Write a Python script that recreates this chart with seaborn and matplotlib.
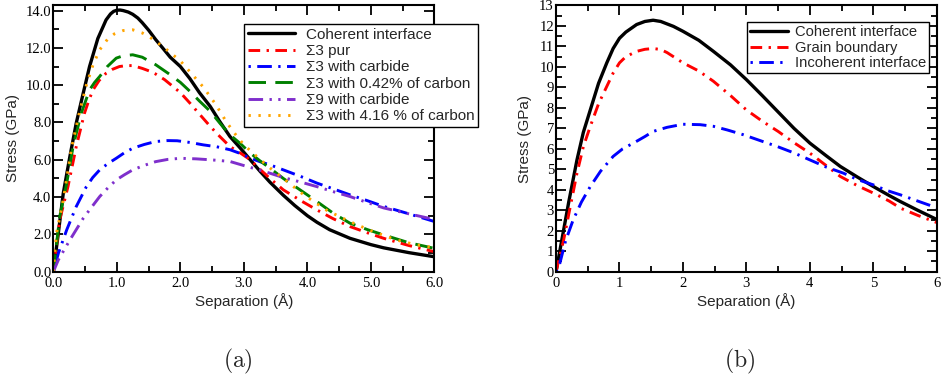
import matplotlib
matplotlib.use("Agg")
import matplotlib.pyplot as plt
from matplotlib.ticker import MultipleLocator, FormatStrFormatter
import seaborn as sns

# (a) curves
coh_a_x = [0, 0.078, 0.156, 0.26, 0.36, 0.47, 0.57, 0.70, 0.83, 0.9, 0.95, 1.0, 1.05, 1.1, 1.18,
           1.25, 1.33, 1.4, 1.5, 1.61, 1.72, 1.84, 2.0, 2.15, 2.3, 2.47, 2.62, 2.78, 2.95, 3.1,
           3.25, 3.41, 3.62, 3.8, 4.0, 4.15, 4.35, 4.67, 5.0, 5.2, 5.6, 6.0]
coh_a_y = [0, 2.06, 4.2, 6.17, 7.96, 9.57, 11.0, 12.5, 13.5, 13.82, 13.96, 14.02, 14.03, 14.0, 13.92,
           13.8, 13.6, 13.35, 12.95, 12.45, 12.0, 11.5, 11.0, 10.35, 9.6, 8.86, 8.05, 7.25, 6.6, 6.0,
           5.4, 4.8, 4.1, 3.55, 3.0, 2.65, 2.25, 1.79, 1.45, 1.28, 1.02, 0.8]

pur_x = [0, 0.05, 0.10, 0.23, 0.36, 0.49, 0.56, 0.625, 0.72, 0.83, 0.93, 1.04, 1.15, 1.25, 1.4,
         1.52, 1.61, 1.75, 1.84, 2.0, 2.15, 2.3, 2.47, 2.62, 2.78, 2.95, 3.1, 3.25, 3.41, 3.62,
         3.9, 4.15, 4.4, 4.67, 4.95, 5.2, 5.6, 6.0]
pur_y = [0, 1.4, 2.77, 4.56, 6.7, 8.5, 9.2, 9.75, 10.25, 10.64, 10.85, 11.0, 11.05, 11.05, 10.9,
         10.75, 10.6, 10.3, 10.05, 9.6, 9.04, 8.45, 7.79, 7.25, 6.71, 6.35, 6.0, 5.5, 5.0, 4.39,
         3.8, 3.31, 2.85, 2.42, 2.08, 1.79, 1.4, 1.07]

carb_x = [0, 0.078, 0.21, 0.36, 0.52, 0.62, 0.73, 0.86, 0.99, 1.12, 1.25, 1.43, 1.61, 1.8, 1.95,
          2.15, 2.36, 2.57, 2.78, 2.95, 3.1, 3.25, 3.41, 3.62, 3.9, 4.15, 4.4, 4.67, 4.95, 5.2,
          5.6, 6.0]
carb_y = [0, 0.98, 2.24, 3.49, 4.56, 5.05, 5.46, 5.8, 6.08, 6.38, 6.62, 6.82, 6.98, 7.03, 7.02,
          6.93, 6.8, 6.7, 6.54, 6.33, 6.09, 5.9, 5.73, 5.46, 5.1, 4.75, 4.45, 4.12, 3.8, 3.5,
          3.1, 2.69]

c042_x = [0, 0.05, 0.10, 0.21, 0.31, 0.44, 0.57, 0.65, 0.73, 0.85, 0.99, 1.1, 1.25, 1.4, 1.61,
          1.84, 2.0, 2.15, 2.3, 2.47, 2.62, 2.78, 2.95, 3.1, 3.25, 3.41, 3.62, 3.9, 4.15, 4.4,
          4.67, 4.95, 5.2, 5.6, 6.0]
c042_y = [0, 1.5, 2.95, 4.74, 6.7, 8.5, 9.75, 10.15, 10.47, 11.0, 11.45, 11.58, 11.63, 11.5, 11.1,
          10.56, 10.15, 9.67, 9.15, 8.6, 7.97, 7.34, 6.85, 6.36, 5.95, 5.55, 5.0, 4.35, 3.76, 3.15,
          2.6, 2.25, 1.97, 1.55, 1.25]

s9_x = [0, 0.078, 0.26, 0.47, 0.6, 0.73, 0.86, 0.99, 1.12, 1.25, 1.43, 1.61, 1.8, 2.0, 2.25,
        2.47, 2.62, 2.78, 3.05, 3.25, 3.41, 3.62, 3.9, 4.15, 4.4, 4.67, 4.95, 5.2, 5.6, 6.0]
s9_y = [0, 0.63, 1.7, 2.86, 3.45, 4.03, 4.5, 4.92, 5.2, 5.46, 5.7, 5.9, 6.02, 6.08, 6.05,
        6.0, 5.96, 5.91, 5.64, 5.45, 5.28, 5.05, 4.8, 4.56, 4.3, 4.03, 3.7, 3.42, 3.1, 2.8]

c416_x = [0, 0.05, 0.156, 0.29, 0.42, 0.52, 0.625, 0.73, 0.85, 0.96, 1.1, 1.25, 1.4, 1.51, 1.75,
          2.0, 2.18, 2.36, 2.55, 2.73, 2.87, 3.0, 3.13, 3.26, 3.45, 3.62, 3.95, 4.3, 4.67, 5.0,
          5.4, 5.7, 6.0]
c416_y = [0, 2.06, 3.85, 6.7, 8.68, 10.0, 11.1, 11.9, 12.45, 12.75, 12.93, 12.97, 12.8, 12.6, 12.0,
          11.3, 10.6, 9.9, 9.0, 8.0, 7.35, 6.8, 6.4, 6.0, 5.45, 5.0, 4.1, 3.3, 2.68, 2.2,
          1.7, 1.45, 1.28]

# (b) curves
coh_b_x = [0, 0.12, 0.2, 0.33, 0.43, 0.54, 0.67, 0.8, 0.9, 1.0, 1.1, 1.27, 1.4, 1.53, 1.65, 1.85,
           2.0, 2.25, 2.48, 2.75, 3.0, 3.25, 3.5, 3.75, 4.0, 4.25, 4.48, 4.75, 5.0, 5.25, 5.43,
           5.7, 6.0]
coh_b_y = [0, 2.04, 3.4, 5.46, 6.8, 7.9, 9.2, 10.2, 10.9, 11.4, 11.7, 12.07, 12.22, 12.28, 12.22,
           11.98, 11.74, 11.3, 10.76, 10.1, 9.38, 8.6, 7.8, 7.0, 6.28, 5.68, 5.14, 4.62, 4.16, 3.72,
           3.42, 3.0, 2.55]

gb_x = [0, 0.12, 0.2, 0.33, 0.43, 0.54, 0.67, 0.8, 0.9, 1.0, 1.1, 1.27, 1.4, 1.53, 1.65, 1.75,
        2.0, 2.25, 2.48, 2.75, 3.0, 3.25, 3.5, 3.75, 4.0, 4.25, 4.48, 4.75, 5.0, 5.25, 5.43,
        5.7, 6.0]
gb_y = [0, 1.55, 2.8, 4.81, 6.1, 7.1, 8.2, 9.05, 9.7, 10.2, 10.5, 10.76, 10.86, 10.9, 10.85, 10.7,
        10.2, 9.8, 9.3, 8.6, 7.9, 7.35, 6.85, 6.3, 5.79, 5.2, 4.65, 4.2, 3.84, 3.45, 3.1,
        2.75, 2.4]

inc_x = [0, 0.06, 0.15, 0.27, 0.4, 0.54, 0.7, 0.9, 1.05, 1.22, 1.4, 1.53, 1.75, 2.0, 2.27, 2.48,
         2.7, 2.95, 3.2, 3.48, 3.75, 4.0, 4.25, 4.53, 4.75, 5.0, 5.2, 5.43, 5.7, 6.0]
inc_y = [0, 0.41, 1.5, 2.53, 3.4, 4.16, 4.9, 5.63, 6.0, 6.28, 6.6, 6.85, 7.05, 7.2, 7.18, 7.1,
         6.92, 6.69, 6.42, 6.12, 5.8, 5.46, 5.12, 4.81, 4.5, 4.24, 3.98, 3.75, 3.45, 3.12]

sns.set_style("ticks")
plt.rcParams['font.family'] = ['Liberation Sans', 'DejaVu Sans']
plt.rcParams['mathtext.fontset'] = 'cm'

fig = plt.figure(figsize=(9.41, 3.81), dpi=100)
ax1 = fig.add_axes([0.0567, 0.2869, 0.405, 0.700])
ax2 = fig.add_axes([0.5909, 0.2869, 0.4046, 0.6987])

solid = '-'
dashdot = (0, (4, 2.2, 0.8, 2.2))
dotdash = (0, (0.8, 2.2, 5, 2.2))
longdash = (0, (6, 3.2))
dashdotdot = (0, (5, 2.2, 0.8, 2.2, 0.8, 2.2))
dotted = (0, (0.8, 2.6))

curves_a = [
    (coh_a_x, coh_a_y, 'black', solid, 'Coherent interface'),
    (pur_x, pur_y, 'red', dashdot, 'Σ3 pur'),
    (carb_x, carb_y, 'blue', dotdash, 'Σ3 with carbide'),
    (c042_x, c042_y, 'green', longdash, 'Σ3 with 0.42% of carbon'),
    (s9_x, s9_y, '#7f2fcc', dashdotdot, 'Σ9 with carbide'),
    (c416_x, c416_y, 'orange', dotted, 'Σ3 with 4.16 % of carbon'),
]
curves_b = [
    (coh_b_x, coh_b_y, 'black', solid, 'Coherent interface'),
    (gb_x, gb_y, 'red', dashdot, 'Grain boundary'),
    (inc_x, inc_y, 'blue', dotdash, 'Incoherent interface'),
]

for ax, curves in [(ax1, curves_a), (ax2, curves_b)]:
    for x, y, c, ls, lab in curves:
        sns.lineplot(x=x, y=y, ax=ax, color=c, linestyle=ls,
                     lw=2.1 if ls != solid else 2.4, label=lab)


def style_axes(ax, ymax, ystep, fmt_x, fmt_y):
    ax.set_xlim(0, 6)
    ax.set_ylim(0, ymax)
    ax.xaxis.set_major_locator(MultipleLocator(1))
    ax.xaxis.set_minor_locator(MultipleLocator(0.5))
    ax.yaxis.set_major_locator(MultipleLocator(ystep))
    ax.yaxis.set_minor_locator(MultipleLocator(ystep / 2))
    ax.xaxis.set_major_formatter(FormatStrFormatter(fmt_x))
    ax.yaxis.set_major_formatter(FormatStrFormatter(fmt_y))
    ax.tick_params(which='both', direction='in', top=True, right=True, width=1.3,
                   colors='black', labelfontfamily='Liberation Serif', labelsize=10.5)
    ax.tick_params(which='major', length=7)
    ax.tick_params(which='minor', length=4)
    ax.tick_params(axis='x', pad=4)
    ax.tick_params(axis='y', pad=1.5)
    for s in ax.spines.values():
        s.set_linewidth(1.5)
        s.set_color('black')
    ax.set_xlabel('Separation (Å)', fontsize=11)
    ax.set_ylabel('Stress (GPa)', fontsize=11)


style_axes(ax1, 14.3, 2, '%.1f', '%.1f')
style_axes(ax2, 13, 1, '%d', '%d')

ax1.xaxis.set_label_coords(0.5, -0.079)
ax1.yaxis.set_label_coords(-0.087, 0.5)
ax2.xaxis.set_label_coords(0.5, -0.079)
ax2.yaxis.set_label_coords(-0.064, 0.5)

leg_kw = dict(loc='upper left', borderaxespad=0, frameon=True, fancybox=False,
              framealpha=1, edgecolor='black')
l1 = ax1.legend(bbox_to_anchor=(0.5005, 0.929), fontsize=11, labelspacing=0.15,
                handlelength=3.1, handletextpad=0.7, borderpad=0.25, **leg_kw)
l2 = ax2.legend(bbox_to_anchor=(0.502, 0.938), fontsize=10.6, labelspacing=0.12,
                handlelength=2.6, handletextpad=0.45, borderpad=0.2, **leg_kw)
for leg in (l1, l2):
    leg.get_frame().set_linewidth(1.0)
    leg.set_zorder(5)

fig.text(0.2524, 0.0525, r'$\mathrm{(a)}$', fontsize=17, ha='center', va='center')
fig.text(0.7864, 0.0525, r'$\mathrm{(b)}$', fontsize=17, ha='center', va='center')

fig.savefig('out.png', dpi=100)
